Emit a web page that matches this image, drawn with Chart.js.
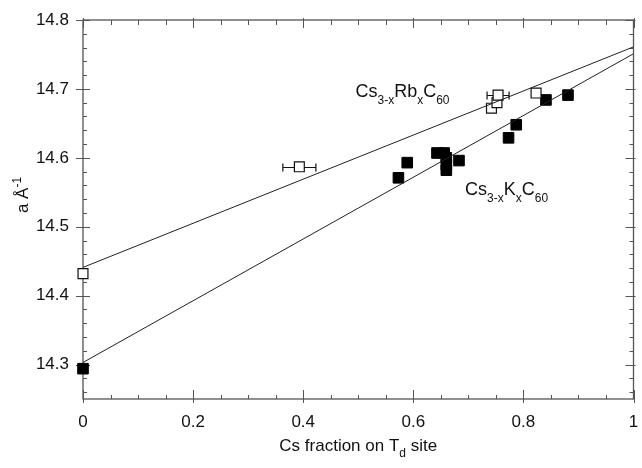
<!DOCTYPE html>
<html lang="en">
<head>
  <meta charset="UTF-8" />
  <script src="https://cdn.jsdelivr.net/npm/chart.js"></script>
  <style>
    html, body { margin: 0; padding: 0; background: #fff; }
    #wrap { width: 642px; height: 468px; }
  </style>
</head>
<body>
  <div id="wrap"><canvas id="latticeChart" width="642" height="468"></canvas></div>

  <script>
    // Cs3-xRbxC60 (open squares)
    const rbX    = [0, 0.393, 0.742, 0.752, 0.754, 0.823];
    const rbA    = [14.432, 14.587, 14.672, 14.680, 14.691, 14.694];
    const rbXErr = [0, 0.03, 0, 0, 0.02, 0];

    // Cs3-xKxC60 (filled squares)
    const kX = [0, 0.573, 0.589, 0.643, 0.656, 0.660, 0.660, 0.660, 0.683, 0.773, 0.787, 0.841, 0.881];
    const kA = [14.294, 14.571, 14.593, 14.607, 14.607, 14.600, 14.590, 14.582, 14.596, 14.629, 14.648, 14.684, 14.691];

    // straight-line fits, end points at x = 0 and x = 1
    const fitX  = [0, 1];
    const rbFit = [14.441, 14.761];
    const kFit  = [14.303, 14.751];

    const xTicks = [0, 0.2, 0.4, 0.6, 0.8, 1];
    const yTicks = [14.3, 14.4, 14.5, 14.6, 14.7, 14.8];

    const FONT = '"Liberation Sans", Arial, sans-serif';

    const pts = (xs, ys) => xs.map((x, i) => ({ x, y: ys[i] }));

    // draw text runs with sub/superscripts: [text, shift] with shift 0, 'sub' or 'sup'
    function drawRuns(ctx, runs, x, y, size) {
      ctx.textBaseline = 'alphabetic';
      ctx.textAlign = 'left';
      for (const [t, kind] of runs) {
        const s = kind ? Math.round(size * 0.68) : size;
        const dy = kind === 'sub' ? size * 0.36 : kind === 'sup' ? -size * 0.42 : 0;
        ctx.font = `${s}px ${FONT}`;
        ctx.fillText(t, x, y + dy);
        x += ctx.measureText(t).width;
      }
      return x;
    }
    function runsWidth(ctx, runs, size) {
      let w = 0;
      for (const [t, kind] of runs) {
        const s = kind ? Math.round(size * 0.68) : size;
        ctx.font = `${s}px ${FONT}`;
        w += ctx.measureText(t).width;
      }
      return w;
    }

    const framePlugin = {
      id: 'frame',
      beforeDatasetsDraw(chart) {
        const { ctx, chartArea: a, scales: { x, y } } = chart;
        ctx.save();
        ctx.strokeStyle = '#555';
        ctx.lineWidth = 1.3;
        ctx.strokeRect(a.left, a.top, a.right - a.left, a.bottom - a.top);

        ctx.lineWidth = 1;
        ctx.beginPath();
        // y axis: minor every 0.02 inside, major crossing the axis
        for (let v = 14.26; v < 14.8; v += 0.02) {
          const p = Math.round(y.getPixelForValue(v)) + 0.5;
          ctx.moveTo(a.left, p); ctx.lineTo(a.left + 4, p);
          ctx.moveTo(a.right, p); ctx.lineTo(a.right - 4, p);
        }
        for (const v of yTicks) {
          const p = Math.round(y.getPixelForValue(v)) + 0.5;
          ctx.moveTo(a.left - 7, p); ctx.lineTo(a.left + 7, p);
          ctx.moveTo(a.right - 8, p); ctx.lineTo(a.right + 2, p);
        }
        // x axis: minor every 0.05 inside, major crossing the axis
        for (let v = 0.05; v < 1; v += 0.05) {
          const p = Math.round(x.getPixelForValue(v)) + 0.5;
          ctx.moveTo(p, a.bottom); ctx.lineTo(p, a.bottom - 4);
          ctx.moveTo(p, a.top); ctx.lineTo(p, a.top + 5);
        }
        for (const v of xTicks) {
          const p = Math.round(x.getPixelForValue(v)) + 0.5;
          ctx.moveTo(p, a.bottom + 4); ctx.lineTo(p, a.bottom - 9);
          ctx.moveTo(p, a.top - 2); ctx.lineTo(p, a.top + 8);
        }
        ctx.stroke();
        ctx.restore();
      },
      afterDatasetsDraw(chart) {
        const { ctx, chartArea: a, scales: { x, y } } = chart;
        ctx.save();

        // horizontal error bars on the Rb points
        ctx.strokeStyle = '#111';
        ctx.lineWidth = 1.2;
        ctx.beginPath();
        rbX.forEach((xv, i) => {
          const e = rbXErr[i];
          if (!e) return;
          const py = Math.round(y.getPixelForValue(rbA[i])) + 0.5;
          const x0 = x.getPixelForValue(xv - e);
          const x1 = x.getPixelForValue(xv + e);
          const xl = x.getPixelForValue(xv) - 5;
          const xr = x.getPixelForValue(xv) + 5;
          ctx.moveTo(x0, py); ctx.lineTo(xl, py);
          ctx.moveTo(xr, py); ctx.lineTo(x1, py);
          ctx.moveTo(x0, py - 4); ctx.lineTo(x0, py + 4);
          ctx.moveTo(x1, py - 4); ctx.lineTo(x1, py + 4);
        });
        ctx.stroke();

        // series labels
        ctx.fillStyle = '#111';
        drawRuns(ctx, [['Cs'], ['3-x', 'sub'], ['Rb'], ['x', 'sub'], ['C'], ['60', 'sub']],
          x.getPixelForValue(0.495), y.getPixelForValue(14.688), 18);
        drawRuns(ctx, [['Cs'], ['3-x', 'sub'], ['K'], ['x', 'sub'], ['C'], ['60', 'sub']],
          x.getPixelForValue(0.694), y.getPixelForValue(14.546), 18);

        // x axis title
        const xt = [['Cs fraction on T'], ['d', 'sub'], [' site']];
        const cx = (a.left + a.right) / 2;
        drawRuns(ctx, xt, cx - runsWidth(ctx, xt, 17) / 2, a.bottom + 52, 17);

        // y axis title, rotated
        const yt = [['a Å'], ['-1', 'sup']];
        ctx.translate(28, 195);
        ctx.rotate(-Math.PI / 2);
        drawRuns(ctx, yt, -runsWidth(ctx, yt, 17) / 2, 0, 17);
        ctx.restore();
      }
    };

    new Chart(document.getElementById('latticeChart'), {
      type: 'scatter',
      data: {
        datasets: [
          {
            label: 'Rb fit',
            type: 'line',
            data: pts(fitX, rbFit),
            borderColor: '#222',
            borderWidth: 1,
            pointRadius: 0,
            fill: false,
          },
          {
            label: 'K fit',
            type: 'line',
            data: pts(fitX, kFit),
            borderColor: '#222',
            borderWidth: 1,
            pointRadius: 0,
            fill: false,
          },
          {
            label: 'Cs3-xRbxC60',
            data: pts(rbX, rbA),
            pointStyle: 'rect',
            pointRadius: 7,
            backgroundColor: '#fff',
            borderColor: '#111',
            borderWidth: 1.2,
            clip: false,
          },
          {
            label: 'Cs3-xKxC60',
            data: pts(kX, kA),
            pointStyle: 'rect',
            pointRadius: 7.5,
            backgroundColor: '#000',
            borderColor: '#000',
            borderWidth: 1,
            clip: false,
          },
        ],
      },
      options: {
        responsive: false,
        animation: false,
        layout: { padding: { top: 20, right: 4, left: 0, bottom: 0 } },
        plugins: {
          legend: { display: false },
          tooltip: { enabled: false },
        },
        scales: {
          x: {
            type: 'linear',
            min: 0,
            max: 1,
            afterBuildTicks: s => { s.ticks = xTicks.map(value => ({ value })); },
            afterFit: s => { s.height = 69; s.paddingLeft = 0; s.paddingRight = 0; },
            grid: { display: false, drawTicks: false },
            border: { display: false },
            ticks: {
              padding: 13,
              color: '#111',
              font: { family: FONT, size: 17 },
              callback: v => String(+v.toFixed(1)),
            },
          },
          y: {
            type: 'linear',
            min: 14.25,
            max: 14.8,
            afterBuildTicks: s => { s.ticks = yTicks.map(value => ({ value })); },
            afterFit: s => { s.width = 83; s.paddingTop = 0; s.paddingBottom = 0; },
            grid: { display: false, drawTicks: false },
            border: { display: false },
            ticks: {
              padding: 14,
              color: '#111',
              font: { family: FONT, size: 17 },
              callback: v => v.toFixed(1),
            },
          },
        },
      },
      plugins: [framePlugin],
    });
  </script>
</body>
</html>
